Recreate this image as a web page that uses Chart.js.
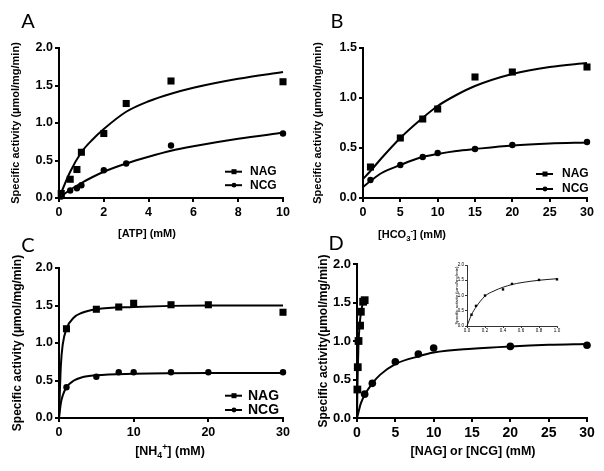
<!DOCTYPE html>
<html>
<head>
<meta charset="utf-8">
<script src="https://cdn.jsdelivr.net/npm/chart.js@4.4.0/dist/chart.umd.min.js"></script>
<style>
  html, body { margin: 0; padding: 0; background: #fff; }
  #fig { position: relative; width: 604px; height: 471px; overflow: hidden; background: #fff; }
  canvas { position: absolute; }
  .xt { position: absolute; font-family: Arial, "Liberation Sans", sans-serif; font-weight: bold; color: #000;
        white-space: nowrap; transform: translate(-50%, -50%); line-height: 1; }
  .xt sub, .xt sup { font-size: 0.7em; line-height: 0; }
  .pl { position: absolute; font-family: Lato, sans-serif; font-size: 20px; color: #000;
        transform: translate(-50%, -50%); line-height: 1; }
</style>
</head>
<body>
<div id="fig">
  <canvas id="cA" width="300" height="230" style="left:0;top:0"></canvas>
  <canvas id="cB" width="304" height="230" style="left:300px;top:0"></canvas>
  <canvas id="cC" width="300" height="241" style="left:0;top:230px"></canvas>
  <canvas id="cD" width="304" height="241" style="left:300px;top:230px"></canvas>
  <canvas id="cI" width="150" height="90" style="left:440px;top:255px"></canvas>

  <div class="pl" style="left:28px;top:20px">A</div>
  <div class="pl" style="left:337px;top:20px">B</div>
  <div class="pl" style="left:28px;top:244px">C</div>
  <div class="pl" style="left:336px;top:242px">D</div>

  <div class="xt" style="left:147px;top:233px;font-size:11px">[ATP] (mM)</div>
  <div class="xt" style="left:412px;top:234px;font-size:11px">[HCO<sub>3</sub><sup>-</sup>] (mM)</div>
  <div class="xt" style="left:170px;top:451px;font-size:12.5px">[NH<sub>4</sub><sup>+</sup>] (mM)</div>
  <div class="xt" style="left:473px;top:451px;font-size:12.5px">[NAG] or [NCG] (mM)</div>
</div>
<script>
// A: ATP
const atpConc = [0.1, 0.5, 0.8, 1, 2, 3, 5, 10]
const atpNag = [0.06, 0.25, 0.38, 0.61, 0.86, 1.26, 1.56, 1.55]
const atpNcg = [0.02, 0.10, 0.13, 0.17, 0.37, 0.46, 0.70, 0.86]
const atpFitX = [0, 0.5, 1, 1.5, 2, 3, 4, 5, 6, 8, 10]
const atpFitNag = [0, 0.35, 0.61, 0.78, 0.92, 1.15, 1.29, 1.39, 1.47, 1.59, 1.68]
const atpFitNcg = [0, 0.11, 0.20, 0.28, 0.35, 0.46, 0.55, 0.63, 0.69, 0.79, 0.87]

// B: bicarbonate
const hco3Conc = [1, 5, 8, 10, 15, 20, 30]
const hco3Nag = [0.31, 0.60, 0.79, 0.89, 1.21, 1.26, 1.31]
const hco3Ncg = [0.18, 0.33, 0.41, 0.45, 0.49, 0.53, 0.56]
const hco3FitX = [0, 1, 2.5, 5, 7.5, 10, 12.5, 15, 20, 25, 30]
const hco3FitNag = [0.19, 0.27, 0.40, 0.60, 0.77, 0.92, 1.03, 1.12, 1.24, 1.31, 1.35]
const hco3FitNcg = [0.11, 0.17, 0.25, 0.33, 0.40, 0.44, 0.47, 0.49, 0.525, 0.545, 0.555]

// C: ammonium
const nh4Conc = [1, 5, 8, 10, 15, 20, 30]
const nh4Nag = [1.19, 1.45, 1.48, 1.53, 1.51, 1.51, 1.41]
const nh4Ncg = [0.41, 0.55, 0.61, 0.61, 0.61, 0.61, 0.61]
const nh4FitX = [0, 0.25, 0.5, 1, 2, 3, 5, 10, 20, 30]
const nh4FitNag = [0, 0.70, 0.98, 1.19, 1.34, 1.40, 1.45, 1.48, 1.50, 1.50]
const nh4FitNcg = [0, 0.20, 0.30, 0.41, 0.50, 0.54, 0.57, 0.59, 0.60, 0.60]

// D: NAG / NCG (inset = NAG only, 0-1 mM)
const nagConc = [0.05, 0.1, 0.2, 0.4, 0.5, 0.8, 1.0]
const nagAct = [0.37, 0.66, 1.00, 1.20, 1.38, 1.51, 1.53]
const nagFitX = [0, 0.05, 0.1, 0.2, 0.3, 0.4, 0.5, 0.6, 0.8, 1.0]
const nagFitY = [0, 0.37, 0.62, 0.98, 1.15, 1.27, 1.36, 1.42, 1.50, 1.55]
const ncgConc = [1, 2, 5, 8, 10, 20, 30]
const ncgAct = [0.31, 0.45, 0.73, 0.83, 0.91, 0.93, 0.945]
const ncgFitX = [0, 0.5, 1, 2, 3, 5, 8, 10, 15, 20, 25, 30]
const ncgFitY = [0, 0.19, 0.30, 0.45, 0.56, 0.70, 0.80, 0.85, 0.90, 0.93, 0.95, 0.96]

const FONT = 'Arial, "Liberation Sans", sans-serif'
Chart.defaults.color = '#000'
Chart.defaults.font.family = FONT

const pts = (xs, ys) => xs.map((x, i) => ({ x, y: ys[i] }))

// legend drawn inside the plot area, GraphPad style
const miniLegend = {
  id: 'miniLegend',
  afterDraw(chart, args, opts) {
    if (!opts || !opts.items) return
    const ctx = chart.ctx
    ctx.save()
    opts.items.forEach((idx, i) => {
      const ds = chart.data.datasets[idx]
      const y = opts.y + i * opts.dy
      ctx.strokeStyle = '#000'
      ctx.lineWidth = 2
      ctx.beginPath()
      ctx.moveTo(opts.x, y)
      ctx.lineTo(opts.x + 17, y)
      ctx.stroke()
      ctx.fillStyle = '#000'
      const mx = opts.x + 9
      if (ds.pointStyle === 'rect') ctx.fillRect(mx - 2.5, y - 2.5, 5, 5)
      else { ctx.beginPath(); ctx.arc(mx, y, 2.4, 0, Math.PI * 2); ctx.fill() }
      ctx.font = `bold ${opts.size}px ${FONT}`
      ctx.textBaseline = 'middle'
      ctx.fillText(ds.label, opts.textX, y)
    })
    ctx.restore()
  }
}
Chart.register(miniLegend)

function panel(id, o) {
  const datasets = []
  o.marks.forEach(m => datasets.push({
    label: m.label, data: m.data, showLine: false,
    pointStyle: m.style, pointRadius: m.r, pointBackgroundColor: '#000',
    pointBorderColor: '#000', pointBorderWidth: 0, clip: false
  }))
  o.fits.forEach(f => datasets.push({
    label: 'fit', data: f, showLine: true, pointRadius: 0,
    borderColor: '#000', borderWidth: o.lw, cubicInterpolationMode: 'monotone', clip: false
  }))
  new Chart(document.getElementById(id), {
    type: 'line',
    data: { datasets },
    options: {
      responsive: false,
      animation: false,
      events: [],
      layout: { padding: o.pad },
      plugins: { legend: { display: false }, tooltip: { enabled: false }, miniLegend: o.legend || {} },
      scales: {
        x: {
          type: 'linear', min: 0, max: o.xMax,
          afterFit: s => { s.height = o.xH },
          border: { color: '#000', width: o.bw },
          grid: { drawOnChartArea: false, drawTicks: true, tickLength: o.tl, color: '#000', lineWidth: o.bw },
          ticks: { stepSize: o.xStep, padding: o.xPad, maxRotation: 0, font: { size: o.xFont, weight: o.tw },
                   callback: v => o.xDec ? v.toFixed(o.xDec) : v }
        },
        y: {
          min: 0, max: o.yMax,
          afterFit: s => { s.width = o.yW },
          border: { color: '#000', width: o.bw },
          grid: { drawOnChartArea: false, drawTicks: true, tickLength: o.tl, color: '#000', lineWidth: o.bw },
          ticks: { stepSize: 0.5, padding: o.yPad, font: { size: o.yFont, weight: o.tw }, callback: v => v.toFixed(1) },
          title: { display: true, text: o.yTitle, padding: { top: o.tPad, bottom: 0 },
                   font: { size: o.tSize, weight: o.tw } }
        }
      }
    }
  })
}

const base = { bw: 2, tl: 4, lw: 2, tw: 'bold', xPad: 3, yPad: 2 }
const yt = 'Specific activity (\u00b5mol/mg/min)'

panel('cA', { ...base,
  marks: [{ label: 'NAG', data: pts(atpConc, atpNag), style: 'rect', r: 5 },
          { label: 'NCG', data: pts(atpConc, atpNcg), style: 'circle', r: 3.2 }],
  fits: [pts(atpFitX, atpFitNag), pts(atpFitX, atpFitNcg)],
  pad: { left: 0, top: 48, right: 17, bottom: 0 }, xH: 32, yW: 59,
  xMax: 10, xStep: 2, yMax: 2, xFont: 12.5, yFont: 12.5,
  yTitle: yt, tSize: 11, tPad: 9,
  legend: { items: [0, 1], x: 225, y: 171.7, dy: 13.5, textX: 250, size: 12 }
})

panel('cB', { ...base,
  marks: [{ label: 'NAG', data: pts(hco3Conc, hco3Nag), style: 'rect', r: 5 },
          { label: 'NCG', data: pts(hco3Conc, hco3Ncg), style: 'circle', r: 3.2 }],
  fits: [pts(hco3FitX, hco3FitNag), pts(hco3FitX, hco3FitNcg)],
  pad: { left: 0, top: 48, right: 17, bottom: 0 }, xH: 32, yW: 63,
  xMax: 30, xStep: 5, yMax: 1.5, xFont: 12.5, yFont: 12.5,
  yTitle: yt, tSize: 11, tPad: 11.5,
  legend: { items: [0, 1], x: 236, y: 174, dy: 15, textX: 262, size: 12 }
})

panel('cC', { ...base,
  marks: [{ label: 'NAG', data: pts(nh4Conc, nh4Nag), style: 'rect', r: 5 },
          { label: 'NCG', data: pts(nh4Conc, nh4Ncg), style: 'circle', r: 3.2 }],
  fits: [pts(nh4FitX, nh4FitNag), pts(nh4FitX, nh4FitNcg)],
  pad: { left: 0, top: 38, right: 17, bottom: 0 }, xH: 53, yW: 59,
  xMax: 30, xStep: 10, yMax: 2, xFont: 12.5, yFont: 12.5,
  yTitle: yt, tSize: 12, tPad: 10.3,
  legend: { items: [0, 1], x: 225, y: 165.7, dy: 14.3, textX: 248, size: 14 }
})

panel('cD', { ...base,
  marks: [{ label: 'NAG', data: pts(nagConc, nagAct), style: 'rect', r: 5.5 },
          { label: 'NCG', data: pts(ncgConc, ncgAct), style: 'circle', r: 3.8 }],
  fits: [pts(nagFitX, nagFitY), pts(ncgFitX, ncgFitY)],
  pad: { left: 0, top: 34, right: 17, bottom: 0 }, xH: 53, yW: 57,
  xMax: 30, xStep: 5, yMax: 2, xFont: 14, yFont: 13,
  yTitle: 'Specific activity(\u00b5mol/mg/min)', tSize: 12, tPad: 16.3
})

panel('cI', { ...base, bw: 0.8, tl: 2, lw: 0.9, tw: 'normal', xPad: 0.3, yPad: 1,
  marks: [{ label: 'NAG', data: pts(nagConc, nagAct), style: 'rect', r: 1.7 }],
  fits: [pts(nagFitX, nagFitY)],
  pad: { left: 0, top: 10, right: 33, bottom: 0 }, xH: 19, yW: 27,
  xMax: 1, xStep: 0.2, xDec: 1, yMax: 2, xFont: 4.5, yFont: 4.5,
  yTitle: yt, tSize: 4.3, tPad: 14
})
</script>
</body>
</html>
